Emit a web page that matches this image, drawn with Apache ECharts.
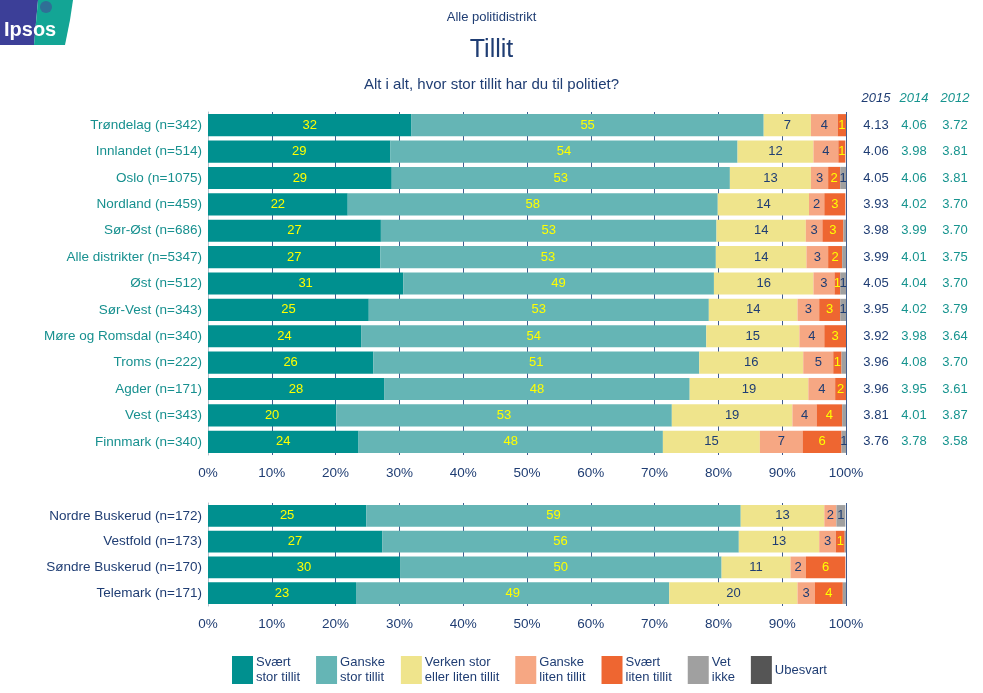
<!DOCTYPE html>
<html>
<head>
<meta charset="utf-8">
<script src="https://cdn.jsdelivr.net/npm/echarts@6/dist/echarts.min.js"></script>
<style>html,body{margin:0;padding:0;background:#fff}#c{width:983px;height:693px}</style>
</head>
<body>
<div id="c"></div>
<script>
const seriesNames = ['Svært\nstor tillit', 'Ganske\nstor tillit', 'Verken stor\neller liten tillit', 'Ganske\nliten tillit', 'Svært\nliten tillit', 'Vet\nikke', 'Ubesvart'];
const seriesColors = ['#00908f', '#65b5b5', '#efe48c', '#f6a783', '#ee6631', '#a0a0a0', '#555555'];
const labelColors = ['#ffff00', '#ffff00', '#1f3d73', '#1f3d73', '#ffff00', '#1f3d73', '#ffffff'];

const categoriesTop = ['Trøndelag (n=342)', 'Innlandet (n=514)', 'Oslo (n=1075)', 'Nordland (n=459)', 'Sør-Øst (n=686)', 'Alle distrikter (n=5347)', 'Øst (n=512)', 'Sør-Vest (n=343)', 'Møre og Romsdal (n=340)', 'Troms (n=222)', 'Agder (n=171)', 'Vest (n=343)', 'Finnmark (n=340)'];
const categoriesBottom = ['Nordre Buskerud (n=172)', 'Vestfold (n=173)', 'Søndre Buskerud (n=170)', 'Telemark (n=171)'];

const topSvaertStor = [31.9, 28.6, 28.8, 21.9, 27.1, 27.0, 30.6, 25.2, 24.0, 25.9, 27.6, 20.1, 23.6];
const topGanskeStor = [55.2, 54.4, 53.0, 58.0, 52.6, 52.6, 48.7, 53.3, 54.1, 51.1, 47.9, 52.6, 47.7];
const topVerken = [7.4, 11.9, 12.7, 14.3, 14.0, 14.2, 15.6, 13.9, 14.6, 16.3, 18.6, 18.9, 15.2];
const topGanskeLiten = [4.2, 3.9, 2.7, 2.4, 2.6, 3.4, 3.3, 3.4, 3.9, 4.7, 4.2, 3.8, 6.7];
const topSvaertLiten = [1.3, 1.1, 1.9, 3.3, 3.3, 2.2, 0.9, 3.3, 3.4, 1.3, 1.7, 4.0, 6.1];
const topVetIkke = [0, 0, 0.9, 0, 0.5, 0.7, 0.9, 0.9, 0, 0.7, 0, 0.6, 0.8];
const topUbesvart = [0, 0, 0, 0, 0, 0, 0, 0, 0, 0, 0, 0, 0];

const botSvaertStor = [24.8, 27.3, 30.1, 23.2];
const botGanskeStor = [58.7, 55.9, 50.4, 49.1];
const botVerken = [13.1, 12.6, 10.8, 20.1];
const botGanskeLiten = [1.9, 2.6, 2.4, 2.7];
const botSvaertLiten = [0, 1.4, 6.2, 4.4];
const botVetIkke = [1.4, 0.2, 0, 0.5];
const botUbesvart = [0, 0, 0, 0];

const yearLabels = ['2015', '2014', '2012'];
const mean2015 = ['4.13', '4.06', '4.05', '3.93', '3.98', '3.99', '4.05', '3.95', '3.92', '3.96', '3.96', '3.81', '3.76'];
const mean2014 = ['4.06', '3.98', '4.06', '4.02', '3.99', '4.01', '4.04', '4.02', '3.98', '4.08', '3.95', '4.01', '3.78'];
const mean2012 = ['3.72', '3.81', '3.81', '3.70', '3.70', '3.75', '3.70', '3.79', '3.64', '3.70', '3.61', '3.87', '3.58'];

const topData = [topSvaertStor, topGanskeStor, topVerken, topGanskeLiten, topSvaertLiten, topVetIkke, topUbesvart];
const botData = [botSvaertStor, botGanskeStor, botVerken, botGanskeLiten, botSvaertLiten, botVetIkke, botUbesvart];
const meanCols = [mean2015, mean2014, mean2012];
const meanColors = ['#1f3d73', '#17948f', '#17948f'];
const meanMargins = [30, 68, 109];

const FONT = "'Liberation Sans', Arial, sans-serif";
const NAVY = '#1f3d73';
const TEAL = '#17908f';

const chart = echarts.init(document.getElementById('c'), null, {renderer: 'canvas'});

function xAx(gridIndex) {
  return {
    type: 'value', gridIndex: gridIndex, min: 0, max: 100, interval: 10,
    axisLine: {show: false}, axisTick: {show: false},
    splitLine: {show: true, lineStyle: {color: '#3f5d8f', width: 1}},
    axisLabel: {formatter: '{value}%', color: NAVY, fontSize: 13.5, fontFamily: FONT, margin: 11}
  };
}
function yAx(gridIndex, cats, color) {
  return {
    type: 'category', gridIndex: gridIndex, data: cats, inverse: true,
    axisLine: {show: true, lineStyle: {color: '#b8c0cc'}}, axisTick: {show: false},
    axisLabel: {color: color, fontSize: 13.5, fontFamily: FONT, margin: 6}
  };
}

const yAxes = [yAx(0, categoriesTop, TEAL), yAx(1, categoriesBottom, NAVY)];
meanCols.forEach((col, i) => {
  yAxes.push({
    type: 'category', gridIndex: 0, data: col, inverse: true, position: 'right',
    axisLine: {show: false}, axisTick: {show: false}, splitLine: {show: false},
    axisLabel: {color: meanColors[i], fontSize: 13, fontFamily: FONT, margin: meanMargins[i], align: 'center'}
  });
});

const series = [];
[topData, botData].forEach((dataSet, g) => {
  dataSet.forEach((arr, i) => {
    series.push({
      type: 'bar', name: seriesNames[i], stack: 'g' + g,
      xAxisIndex: g, yAxisIndex: g,
      data: arr, barCategoryGap: '16%',
      itemStyle: {color: seriesColors[i]},
      label: {
        show: true, position: 'inside', color: labelColors[i], fontSize: 13, fontFamily: FONT,
        formatter: p => (p.value >= 0.8 ? String(Math.round(p.value)) : '')
      }
    });
  });
});

const graphics = [
  {type: 'polygon', shape: {points: [[0, 0], [38, 0], [34, 45], [0, 45]]}, style: {fill: '#3c3f98'}},
  {type: 'polygon', shape: {points: [[38, 0], [73, 0], [70, 20], [65, 45], [34, 45]]}, style: {fill: '#13a595'}},
  {type: 'circle', shape: {cx: 46, cy: 7, r: 6}, style: {fill: '#2f6f96'}},
  {type: 'text', left: 4, top: 20, style: {text: 'Ipsos', fill: '#ffffff', font: 'bold 20px ' + FONT}}
];
const headerX = [876, 914, 955];
yearLabels.forEach((y, i) => {
  graphics.push({type: 'text', x: headerX[i], y: 92, style: {text: y, fill: meanColors[i], font: 'italic 13px ' + FONT, textAlign: 'center'}});
});

chart.setOption({
  animation: false,
  backgroundColor: '#ffffff',
  textStyle: {fontFamily: FONT},
  title: [
    {text: 'Alle politidistrikt', left: 'center', top: 6, textStyle: {color: NAVY, fontSize: 13, fontWeight: 'normal', fontFamily: FONT}},
    {text: 'Tillit', left: 'center', top: 33, textStyle: {color: NAVY, fontSize: 25, fontWeight: 'normal', fontFamily: FONT}},
    {text: 'Alt i alt, hvor stor tillit har du til politiet?', left: 'center', top: 72, textStyle: {color: NAVY, fontSize: 15, fontWeight: 'normal', fontFamily: FONT}}
  ],
  legend: {
    left: 227, top: 650, itemWidth: 21, itemHeight: 28, itemGap: 16, icon: 'rect',
    selectedMode: false,
    data: seriesNames.map((n, i) => ({name: n, itemStyle: {color: seriesColors[i]}})),
    textStyle: {color: NAVY, fontSize: 13, lineHeight: 15, fontFamily: FONT, padding: [0, 0, 0, -2]}
  },
  grid: [
    {left: 208, top: 112, width: 638, height: 343},
    {left: 208, top: 503, width: 638, height: 103}
  ],
  xAxis: [xAx(0), xAx(1)],
  yAxis: yAxes,
  series: series,
  graphic: graphics
});
</script>
</body>
</html>
